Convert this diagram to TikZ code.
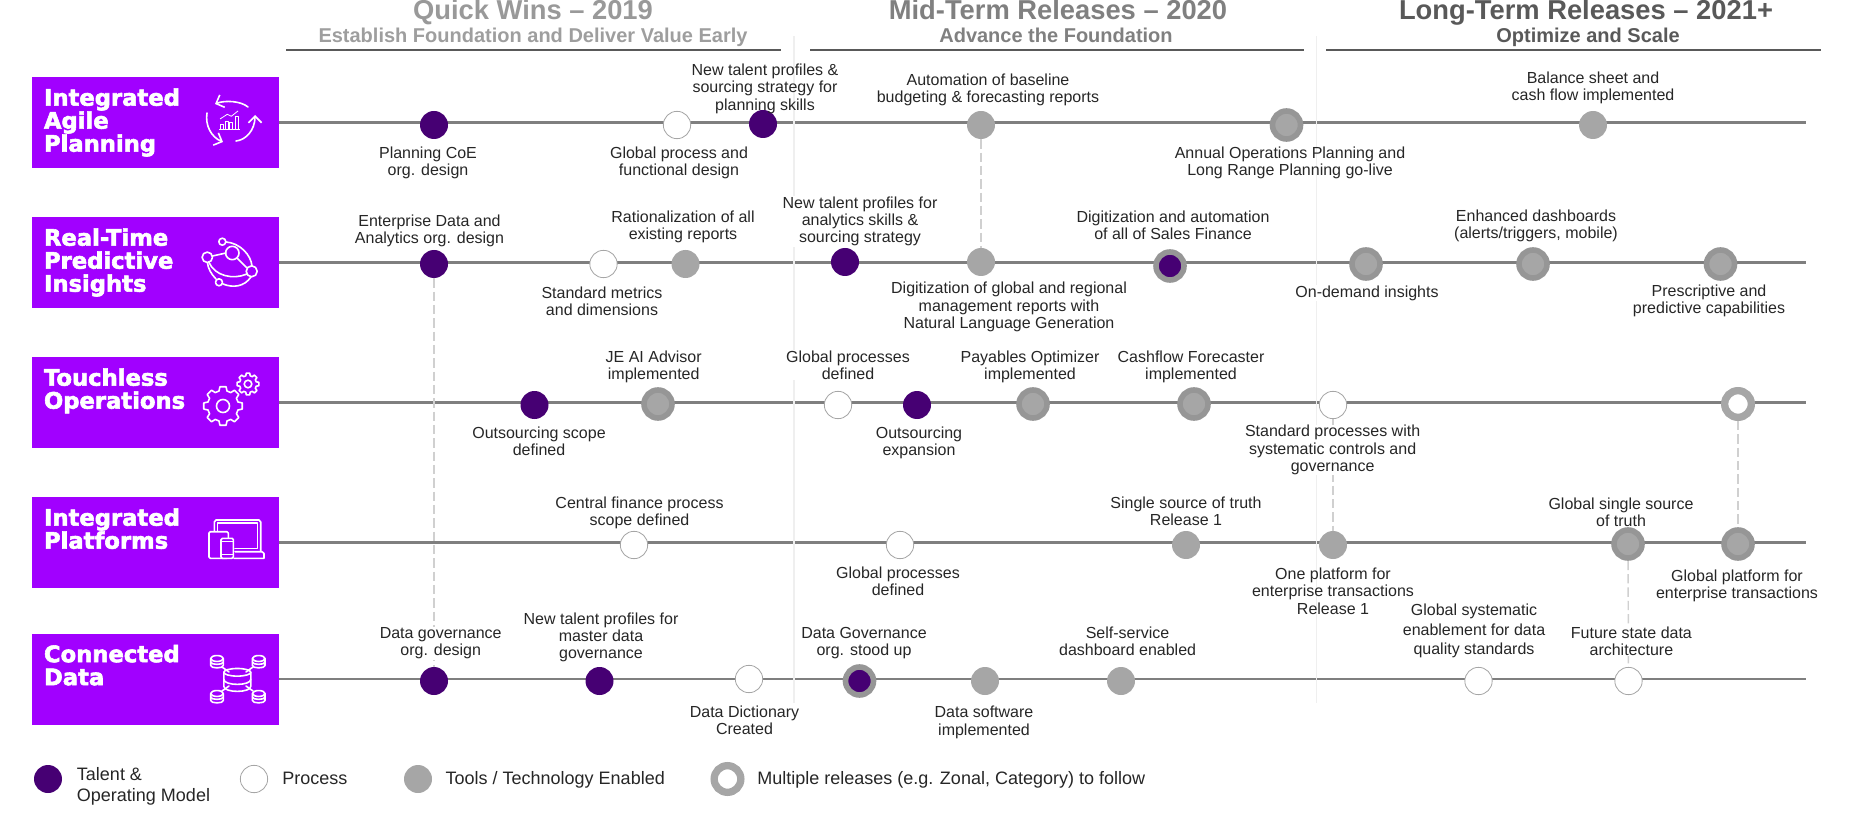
\documentclass[tikz,border=0pt]{standalone}
\usepackage{fontspec}
\setmainfont{Liberation Sans}
\newfontfamily\boxfont[BoldFeatures={FakeBold=2.5}]{DejaVu Sans}
\usepackage{xcolor}
\usepackage{tikz}
\usetikzlibrary{arrows.meta, backgrounds}

\definecolor{boxpurple}{HTML}{A100FF}
\definecolor{talentdark}{HTML}{460073}
\definecolor{toolgrey}{HTML}{A6A6A6}
\definecolor{ringgrey}{HTML}{969696}
\definecolor{railgrey}{HTML}{7F7F7F}
\definecolor{sepgrey}{HTML}{EFEFEF}
\definecolor{dashgrey}{HTML}{D0D0D0}
\definecolor{notegrey}{HTML}{262626}

\tikzset{
  catbox/.style={fill=boxpurple, text=white, minimum width=185.25pt, minimum height=68.25pt,
    inner xsep=9pt, inner ysep=0pt, text width=167.25pt, align=left,
    font=\boxfont\bfseries\fontsize{17}{17.25}\selectfont},
  talent/.style={circle, fill=talentdark, minimum size=21pt, inner sep=0pt},
  process/.style={circle, draw=toolgrey, line width=.6pt, fill=white, minimum size=20.5pt, inner sep=0pt},
  tools/.style={circle, fill=toolgrey, minimum size=21pt, inner sep=0pt},
  multi/.style={circle, draw=ringgrey, line width=4.2pt, fill=toolgrey, minimum size=21pt, inner sep=0pt},
  multitalent/.style={multi, fill=talentdark},
  multiwhite/.style={multi, draw=toolgrey, line width=5.5pt, fill=white, minimum size=20pt},
  note/.style={align=center, text=notegrey, fill=white, inner sep=.5pt,
    font=\fontsize{12}{13}\selectfont},
  barenote/.style={note, fill=none},
  keytext/.style={anchor=west, align=left, text=notegrey, inner sep=0pt,
    font=\fontsize{13.5}{15.75}\selectfont},
  phase/.style={anchor=base, inner sep=0pt, font=\bfseries\fontsize{20.5}{22}\selectfont},
  subphase/.style={anchor=base, inner sep=0pt, font=\bfseries\fontsize{15}{16}\selectfont},
  rail/.style={draw=railgrey, line width=1.6pt},
  phaserule/.style={draw=black!65, line width=1.5pt},
  sepline/.style={draw=sepgrey, line width=1.2pt},
  linkdash/.style={draw=dashgrey, line width=1.1pt, dash pattern=on 7pt off 3pt},
  iconline/.style={draw=white, line width=1.2pt, line join=round, line cap=round},
  iconthin/.style={draw=white, line width=.6pt, line join=round},
  iconarrow/.style={iconline, -{Straight Barb[length=5pt,width=10pt]}}
}

% gear: centre, outer radius, root radius, hole radius
\newcommand{\geargfx}[5]{%
  \begin{scope}[shift={(#1,#2)}]
    \draw[iconline] (-9:#3) \foreach \a in {0,45,...,315}{ -- (\a-9:#3) -- (\a+9:#3) -- (\a+15:#4) -- (\a+30:#4) } -- cycle;
    \draw[iconline] (0,0) circle (#5);
  \end{scope}}
% database drum: centre, x radius, half height
\newcommand{\drumgfx}[4]{%
  \begin{scope}[shift={(#1,#2)}]
    \draw[iconline] (0,-#4) circle[x radius=#3, y radius=2.2+.12*#3];
    \draw[iconline] (-#3,-#4) -- (-#3,#4) .. controls (-#3,#4+.5*#3) and (#3,#4+.5*#3) .. (#3,#4) -- (#3,-#4);
    \draw[iconline] (-#3,0) .. controls (-#3,.5*#3) and (#3,.5*#3) .. (#3,0);
  \end{scope}}

\begin{document}
\begin{tikzpicture}[x=.75pt, y=-.75pt]
\useasboundingbox (0,0) rectangle (1851,816);

% headers
\node[phase, text=black!40] (quick) at (533,20) {Quick Wins -- 2019};
\node[phase, text=black!50] (mid) at (1058,20) {Mid-Term Releases -- 2020};
\node[phase, text=black!65] (long) at (1586,20) {Long-Term Releases -- 2021+};
\node[subphase, text=black!38] (quicksub) at (533,42.5) {Establish Foundation and Deliver Value Early};
\node[subphase, text=black!50] (midsub) at (1056,42.5) {Advance the Foundation};
\node[subphase, text=black!65] (longsub) at (1588,42.5) {Optimize and Scale};
\draw[phaserule] (286,50) -- (781,50);
\draw[phaserule] (810,50) -- (1304,50);
\draw[phaserule] (1326,50) -- (1821,50);

% left boxes
\node[catbox] (agile) at (155.5,122.5) {Integrated\\Agile\\Planning};
\node[catbox] (insight) at (155.5,262.5) {Real-Time\\Predictive\\Insights};
\node[catbox] (touch) at (155.5,402.5) {Touchless\\Operations\\\vphantom{g}};
\node[catbox] (platform) at (155.5,542.5) {Integrated\\Platforms\\\vphantom{g}};
\node[catbox] (data) at (155.5,679) {Connected\\Data\\\vphantom{g}};

% icon: planning cycle
\begin{scope}[shift={(233,122)}]
  \draw[iconarrow] (15,-15) .. controls (8,-21) and (-8,-22) .. (-18,-18);
  \draw[iconarrow] (-26,-9) .. controls (-28,3) and (-22,15) .. (-10,20);
  \draw[iconarrow] (3,19) .. controls (13,18) and (22,8) .. (22,-7);
  \draw[iconthin] (-14,7) -- (7,7);
  \foreach \bx/\bw/\btop in {-13/3/2, -7.5/3/-1, -3.5/3/0, 2/3.5/-6}
    \draw[iconthin] (\bx,7) rectangle (\bx+\bw,\btop);
  \draw[iconthin] (-13,-3) -- (-5.7,-7.7) -- (-1.7,-5.7) -- (5,-11);
\end{scope}

% icon: network
\begin{scope}[shift={(230,263)}]
  \foreach \cx/\cy/\cr in {-7.7/-21.3/3.5, 2.3/-10/6.7, -22.7/-5.7/5.2, 21.7/8.3/5.5, -11/19.3/3.5}
    \draw[iconline] (\cx,\cy) circle (\cr);
  \draw[iconline] (-4,-21) .. controls (10,-20) and (21,-8) .. (22,3);
  \draw[iconline] (21,14) .. controls (14,24) and (3,25) .. (-7,21);
  \draw[iconline] (-14,16) .. controls (-19,11) and (-22,5) .. (-22.5,0);
  \draw[iconline] (-17.5,-7) -- (-4,-10);
  \draw[iconline] (7,-5) -- (17,5);
  \draw[iconline] (-21,-.5) .. controls (-15,13) and (3,17) .. (17,11);
\end{scope}

% icon: gears
\geargfx{223}{406}{19.5}{15.5}{6.5}
\geargfx{248}{384}{11}{8.5}{3.8}

% icon: devices
\draw[iconline] (214.3,531) -- (214.3,522) -- (216,520) -- (259,520) -- (260.7,522) -- (260.7,551);
\draw[iconline] (217.3,531) -- (217.3,522.7) -- (257.3,522.7) -- (257.3,548.3) -- (235,548.3);
\draw[iconline] (235,551.7) -- (262,551.7) -- (264,553.5) -- (264,558.3) -- (234,558.3);
\draw[iconline, rounded corners=1pt] (209,531.7) rectangle (228.3,558.3);
\draw[iconline, fill=boxpurple, rounded corners=1pt] (221,538.3) rectangle (233.3,558.3);
\draw[iconthin] (221,541) -- (233.3,541) (221,554) -- (233.3,554);

% icon: data drums
\draw[iconline] (222,667) -- (229,672) (253,667) -- (246,672) (222,691) -- (229,686) (253,691) -- (246,686);
\drumgfx{237.3}{679.3}{13.5}{7}
\drumgfx{217}{662}{6.3}{3.5}
\drumgfx{258.7}{662}{6.3}{3.5}
\drumgfx{217}{697}{6.3}{3.5}
\drumgfx{258.7}{697}{6.3}{3.5}

% milestones
\foreach \nm/\px/\py/\kind in {
  aa/434/125/talent, ab/677/125/process, ac/763/124/talent, ad/981/125/tools, ae/1286.5/125/multi, af/1593/125/tools,
  ba/434/264/talent, bb/603.5/264/process, bc/685.5/264/tools, bd/845/262/talent, be/981/262/tools, bf/1170/266/multitalent,
  bg/1366/264/multi, bh/1533/264/multi, bi/1720.5/264/multi,
  ca/534.5/405/talent, cb/658/404/multi, cc/838/405/process, cd/917/405/talent, ce/1033/404/multi, cf/1194/404/multi,
  cg/1333/405/process, ch/1738/404/multiwhite,
  da/634/545/process, db/900/545/process, dc/1186/545/tools, dd/1333/545/tools, de/1628/544/multi, df/1738/544/multi,
  ea/434/681/talent, eb/599.5/681/talent, ec/749/679/process, ed/859.5/681/multitalent, ee/985/681/tools, ef/1121/681/tools,
  eg/1478.5/681/process, eh/1628.5/681/process}
  \node[\kind] (\nm) at (\px,\py) {};

% labels row 1
\node[barenote] (aatext) at (428,163) {Planning CoE\\org. design};
\node[barenote] (abtext) at (679,163) {Global process and\\functional design};
\node[barenote] (actext) at (765,88.7) {New talent profiles \&\\sourcing strategy for\\planning skills};
\node[barenote] (adtext) at (988,90) {Automation of baseline\\budgeting \& forecasting reports};
\node[barenote] (aetext) at (1290,163) {Annual Operations Planning and\\Long Range Planning go-live};
\node[barenote] (aftext) at (1593,88) {Balance sheet and\\cash flow implemented};
% labels row 2
\node[barenote] (batext) at (429.5,231) {Enterprise Data and\\Analytics org. design};
\node[barenote] (bbtext) at (602,301) {Standard metrics\\and dimensions};
\node[barenote] (bctext) at (683,227) {Rationalization of all\\existing reports};
\node[note] (bdtext) at (860,221.5) {New talent profiles for\\analytics skills \&\\sourcing strategy};
\node[barenote] (betext) at (1009,307) {Digitization of global and regional\\management reports with\\Natural Language Generation};
\node[barenote] (bftext) at (1173,225) {Digitization and automation\\of all of Sales Finance};
\node[note] (bgtext) at (1367,293) {On-demand insights};
\node[barenote] (bhtext) at (1536,226) {Enhanced dashboards\\(alerts/triggers, mobile)};
\node[barenote] (bitext) at (1709,301) {Prescriptive and\\predictive capabilities};
% labels row 3
\node[barenote] (catext) at (539,441) {Outsourcing scope\\defined};
\node[barenote] (cbtext) at (653.7,367) {JE AI Advisor\\implemented};
\node[note] (cctext) at (848,365) {Global processes\\defined};
\node[barenote] (cdtext) at (919,443) {Outsourcing\\expansion};
\node[barenote] (cetext) at (1030,367) {Payables Optimizer\\implemented};
\node[barenote] (cftext) at (1191,367) {Cashflow Forecaster\\implemented};
\node[note] (cgtext) at (1332.6,450) {Standard processes with\\systematic controls and\\governance};
% labels row 4
\node[barenote] (datext) at (639.5,513) {Central finance process\\scope defined};
\node[barenote] (dbtext) at (898,581) {Global processes\\defined};
\node[barenote] (dctext) at (1186,511) {Single source of truth\\Release 1};
\node[barenote] (ddtext) at (1333,591) {One platform for\\enterprise transactions\\Release 1};
\node[note] (detext) at (1621,512) {Global single source\\of truth};
\node[barenote] (dftext) at (1737,586) {Global platform for\\enterprise transactions};
% labels row 5
\node[note] (eatext) at (440.7,643) {Data governance\\org. design};
\node[barenote] (ebtext) at (601,637.5) {New talent profiles for\\master data\\governance};
\node[note] (ectext) at (744.5,720) {Data Dictionary\\Created};
\node[note] (edtext) at (864,643) {Data Governance\\org. stood up};
\node[barenote] (eetext) at (984,722.5) {Data software\\implemented};
\node[barenote] (eftext) at (1127.6,641) {Self-service\\dashboard enabled};
\node[barenote] (egtext) at (1474,631) {Global systematic\\[1.5pt]enablement for data\\[1.5pt]quality standards};
\node[note] (ehtext) at (1631.4,641) {Future state data\\architecture};

% legend
\node[talent] (keytalent) at (48,779) {};
\node[keytext] (keytalenttext) at (76.7,786) {Talent \&\\Operating Model};
\node[process] (keyprocess) at (254,779) {};
\node[keytext] (keyprocesstext) at (282,778) {Process};
\node[tools] (keytools) at (418,779) {};
\node[keytext] (keytoolstext) at (445.4,780) {Tools / Technology Enabled};
\node[multiwhite] (keymulti) at (727.5,779) {};
\node[keytext] (keymultitext) at (757,780) {Multiple releases (e.g. Zonal, Category) to follow};

\begin{pgfonlayer}{background}
  \foreach \boxnm/\railend in {agile/122.5, insight/262.5, touch/402.5, platform/542.5, data/679}{
    \coordinate (\boxnm end) at (1806,\railend);
    \draw[rail] (\boxnm.east) -- (\boxnm end);
  }
  \coordinate (septopa) at (793.7,36);
  \coordinate (sependa) at (793.7,703);
  \coordinate (septopb) at (1316.6,36);
  \coordinate (sependb) at (1316.6,703);
  \draw[sepline] (septopa) -- (sependa);
  \draw[sepline] (septopb) -- (sependb);
  \draw[linkdash] (ad) -- (be);
  \draw[linkdash] (ba) -- (ea);
  \draw[linkdash] (cg) -- (dd);
  \draw[linkdash] (ch) -- (df);
  \draw[linkdash] (de) -- (eh);
\end{pgfonlayer}
\end{tikzpicture}
\end{document}
